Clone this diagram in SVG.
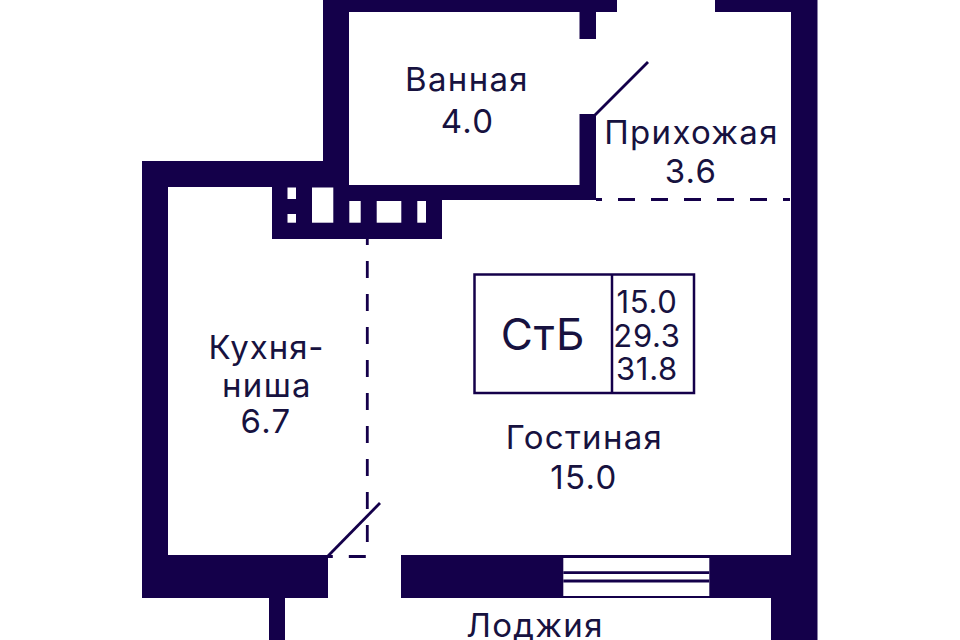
<svg xmlns="http://www.w3.org/2000/svg" width="960" height="640" viewBox="0 0 960 640">
<style>
.w{fill:#14004a}
.h{fill:#fff}
.d{fill:none;stroke:#14004a;stroke-width:2.8}
.t{font-family:"Inter","Liberation Sans",sans-serif;font-size:33px;letter-spacing:1.3px;fill:#17123f;text-anchor:middle}
.n{letter-spacing:.7px;font-size:31px}
</style>
<rect width="960" height="640" fill="#fff"/>
<g id="walls">
<path class="w" d="M323 0H617V12H596V39H579.500V12H349V185H579.500V114H596V200H442V239H272V187H168V555H328V598H285V640H269V598H142V161H323Z"/>
<path class="w" d="M715 0H817.500V640H771V598H401V555H791V12H715Z"/>
<rect class="h" x="287.500" y="187.500" width="8.500" height="11.500"/>
<rect class="h" x="287.500" y="214" width="8.500" height="8.700"/>
<rect class="h" x="312" y="187.500" width="21.300" height="35.200"/>
<rect class="h" x="349.300" y="201" width="11.400" height="21.700"/>
<rect class="h" x="376.700" y="201" width="24.600" height="21.700"/>
<rect class="h" x="417.300" y="201" width="8.700" height="21.700"/>
</g>
<g id="window">
<rect class="h" x="563.300" y="558" width="146" height="38"/>
<path class="d" d="M563.300 572.700H709.300M563.300 581H709.300"/>
</g>
<g id="connectors">
<path class="d" d="M594 116L648 62"/>
<path class="d" d="M328 556L380 503"/>
<path class="d" d="M596 199.500H790" stroke-dasharray="17 16" stroke-dashoffset="11"/>
<path class="d" d="M367.300 239V556.500H328" stroke-dasharray="17 16" stroke-dashoffset="11"/>
</g>
<g id="room-bath"><text class="t" x="467" y="91">Ванная</text><text class="t" x="467.500" y="133">4.0</text></g>
<g id="room-hall"><text class="t" x="691.500" y="144">Прихожая</text><text class="t" x="691" y="183">3.6</text></g>
<g id="room-kitchen"><text class="t" x="266.500" y="359" style="letter-spacing:.9px">Кухня-</text><text class="t" x="267" y="397">ниша</text><text class="t" x="266" y="433">6.7</text></g>
<g id="room-living"><text class="t" x="584.500" y="449">Гостиная</text><text class="t" x="584" y="489">15.0</text></g>
<g id="room-loggia"><text class="t" x="535" y="637">Лоджия</text></g>
<g id="legend">
<rect x="474.500" y="274.500" width="219.500" height="118.500" fill="none" stroke="#14004a" stroke-width="2.500"/>
<path d="M612 274.500V393" fill="none" stroke="#14004a" stroke-width="2.500"/>
<text class="t" x="543" y="350" style="font-size:44px;letter-spacing:1px">СтБ</text>
<text class="t n" x="647" y="313">15.0</text>
<text class="t n" x="647" y="347">29.3</text>
<text class="t n" x="647" y="380">31.8</text>
</g>
</svg>
